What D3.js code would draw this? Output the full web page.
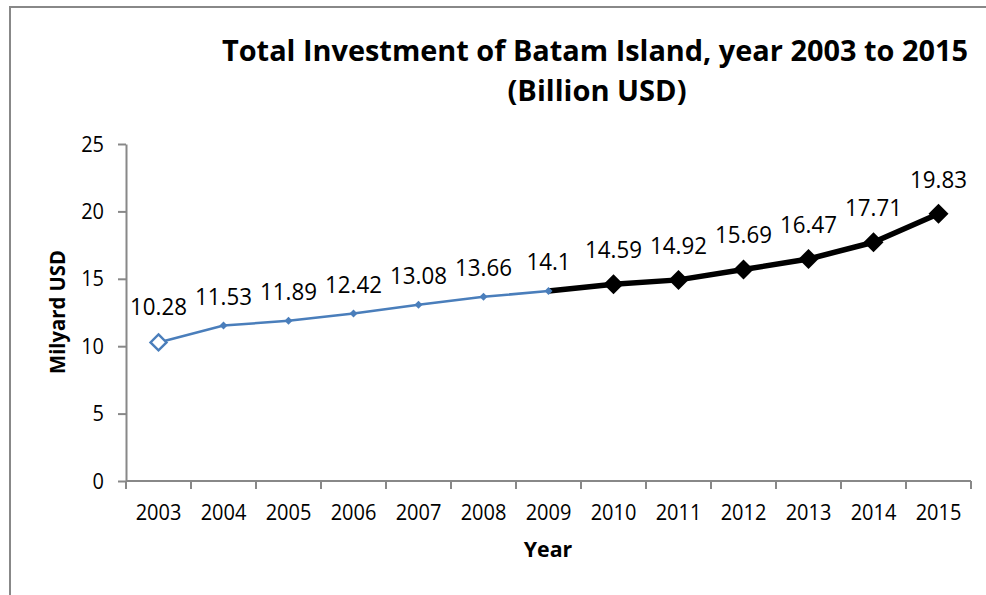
<!DOCTYPE html>
<html>
<head>
<meta charset="utf-8">
<script src="https://cdn.jsdelivr.net/npm/d3@7"></script>
<style>
  html, body { margin: 0; padding: 0; background: #fff; }
  svg { display: block; font-family: "Open Sans", sans-serif; }
</style>
</head>
<body>
<svg id="chart" width="986" height="595"></svg>
<script>
// ---- data ----
const years = ["2003","2004","2005","2006","2007","2008","2009","2010","2011","2012","2013","2014","2015"];
const investment = [10.28, 11.53, 11.89, 12.42, 13.08, 13.66, 14.1, 14.59, 14.92, 15.69, 16.47, 17.71, 19.83];
const valueLabels = ["10.28","11.53","11.89","12.42","13.08","13.66","14.1","14.59","14.92","15.69","16.47","17.71","19.83"];
const yTicks = [0, 5, 10, 15, 20, 25];
const highlightStart = "2009";
const titleLines = ["Total Investment of Batam Island, year 2003 to 2015", "(Billion USD)"];
const xTitle = "Year";
const yTitle = "Milyard USD";

const svg = d3.select("#chart");
const axisColor = "#888888";

// condense text horizontally so taller glyphs keep the reference widths
function squish(sel, f) {
  sel.each(function () {
    const w = this.getComputedTextLength();
    d3.select(this).attr("textLength", w * f).attr("lengthAdjust", "spacingAndGlyphs");
  });
}

// frame (left and top borders)
svg.append("line").attr("x1", 10).attr("x2", 10).attr("y1", 7).attr("y2", 595)
  .attr("stroke", axisColor).attr("stroke-width", 2);
svg.append("line").attr("x1", 9).attr("x2", 986).attr("y1", 7).attr("y2", 7)
  .attr("stroke", axisColor).attr("stroke-width", 2);

const x = d3.scaleBand().domain(years).range([126, 971]).padding(0);
const y = d3.scaleLinear().domain([0, 25]).range([481, 144]);
const cx = d => x(d) + x.bandwidth() / 2;

// y axis
const yAxis = d3.axisLeft(y).tickValues(yTicks).tickSize(8).tickPadding(14).tickSizeOuter(0);
const gy = svg.append("g").attr("transform", "translate(126,0)").call(yAxis);
gy.select(".domain").attr("stroke", axisColor).attr("stroke-width", 2);
gy.selectAll(".tick line").attr("stroke", axisColor).attr("stroke-width", 2);
gy.selectAll(".tick text").attr("font-size", 21).attr("fill", "#000")
  .attr("font-family", "Open Sans").attr("dy", "0.34em");
squish(gy.selectAll(".tick text"), 0.95);

// x axis with ticks at band boundaries
const gx = svg.append("g").attr("transform", "translate(0,481)");
gx.append("line").attr("x1", x.range()[0]).attr("x2", x.range()[1]).attr("y1", 0).attr("y2", 0)
  .attr("stroke", axisColor).attr("stroke-width", 2);
const boundaries = years.map(d => x(d)).concat([x.range()[1]]);
gx.selectAll("line.tk").data(boundaries).enter().append("line").attr("class", "tk")
  .attr("x1", d => d).attr("x2", d => d).attr("y1", 0).attr("y2", 8)
  .attr("stroke", axisColor).attr("stroke-width", 2);
const yl = gx.selectAll("text.yl").data(years).enter().append("text").attr("class", "yl")
  .attr("x", d => cx(d)).attr("y", 39).attr("text-anchor", "middle")
  .attr("font-size", 21.5).attr("fill", "#000").text(d => d);
squish(yl, 0.93);

// axis titles
const xt = svg.append("text").attr("x", 548).attr("y", 557).attr("text-anchor", "middle")
  .attr("font-size", 22).attr("font-weight", "bold").text(xTitle);
squish(xt, 0.97);
const yt = svg.append("text").attr("transform", "translate(65,312) rotate(-90)").attr("text-anchor", "middle")
  .attr("font-size", 22).attr("font-weight", "bold").text(yTitle);
squish(yt, 0.92);

// title
svg.append("text").attr("x", 595).attr("y", 61).attr("text-anchor", "middle")
  .attr("font-size", 28.5).attr("font-weight", "bold")
  .attr("textLength", 746).attr("lengthAdjust", "spacingAndGlyphs").text(titleLines[0]);
svg.append("text").attr("x", 597).attr("y", 101).attr("text-anchor", "middle")
  .attr("font-size", 28.5).attr("font-weight", "bold")
  .attr("textLength", 179).attr("lengthAdjust", "spacingAndGlyphs").text(titleLines[1]);

// data
const data = years.map((yr, i) => ({ yr, v: investment[i], label: valueLabels[i], i }));
const hi = years.indexOf(highlightStart);
const line = d3.line().x(d => cx(d.yr)).y(d => y(d.v));

svg.append("path").datum(data.slice(0, hi + 1)).attr("d", line)
  .attr("fill", "none").attr("stroke", "#4a7ebb").attr("stroke-width", 2.5);
svg.append("path").datum(data.slice(hi)).attr("d", line)
  .attr("fill", "none").attr("stroke", "#000").attr("stroke-width", 5.5).attr("stroke-linejoin", "round");

const diamond = r => `M0,${-r}L${r},0L0,${r}L${-r},0Z`;
// markers
data.forEach(d => {
  const g = svg.append("g").attr("transform", `translate(${cx(d.yr)},${y(d.v)})`);
  if (d.i === 0) {
    g.append("path").attr("d", diamond(8)).attr("fill", "#fff").attr("stroke", "#4a7ebb").attr("stroke-width", 2.4);
  } else if (d.i <= hi) {
    g.append("path").attr("d", diamond(4)).attr("fill", "#4a7ebb");
  } else {
    g.append("path").attr("d", diamond(10)).attr("fill", "#000");
  }
});

// value labels
const vl = svg.selectAll("text.vl").data(data).enter().append("text").attr("class", "vl")
  .attr("x", d => cx(d.yr))
  .attr("y", d => y(d.v) - (d.i === 0 ? 27 : (d.i <= hi ? 21 : 26)))
  .attr("text-anchor", "middle").attr("font-size", 24).attr("fill", "#000")
  .text(d => d.label);
squish(vl, 0.93);
</script>
</body>
</html>
